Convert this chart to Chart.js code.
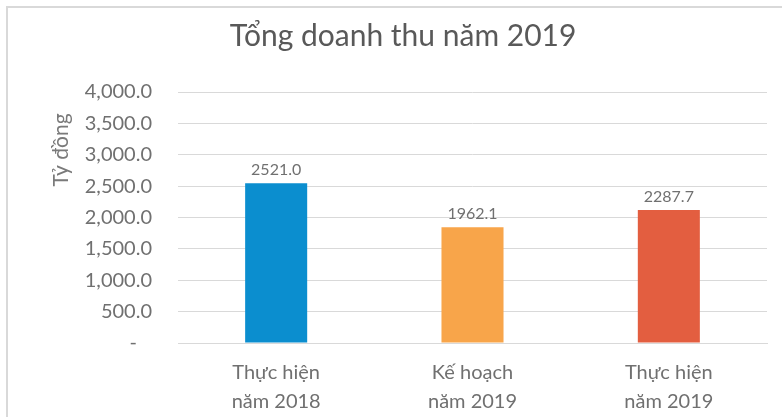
<!DOCTYPE html>
<html>
<head>
<meta charset="utf-8">
<script src="https://cdn.jsdelivr.net/npm/chart.js@4/dist/chart.umd.min.js"></script>
<style>
  html, body { margin: 0; padding: 0; background: #fff; }
  #wrap { width: 782px; height: 417px; }
</style>
</head>
<body>
<div id="wrap"><canvas id="chart" width="782" height="417"></canvas></div>
<script>
const categories = [["Thực hiện", "năm 2018"], ["Kế hoạch", "năm 2019"], ["Thực hiện", "năm 2019"]];
// bar heights as drawn in the picture
const barValues = [2545, 1845, 2120];
// value labels printed above bars
const valueLabels = ["2521.0", "1962.1", "2287.7"];
const barColors = ['#0B8ECF', '#F8A54A', '#E35E40'];
const chartTitle = 'Tổng doanh thu năm 2019';
const yTitle = 'Tỷ đồng';

const FONT = 'Lato, "Open Sans", sans-serif';
const TEXT = '#707070';

// frame around the chart (only top and left edges are visible) + title
const framePlugin = {
    id: 'frame',
    beforeDraw(chart) {
        const ctx = chart.ctx;
        ctx.save();
        ctx.fillStyle = '#fff';
        ctx.fillRect(0, 0, chart.width, chart.height);
        ctx.strokeStyle = '#d9d9d9';
        ctx.lineWidth = 2;
        ctx.beginPath();
        ctx.moveTo(7, chart.height);
        ctx.lineTo(7, 7);
        ctx.lineTo(chart.width, 7);
        ctx.stroke();
        ctx.font = '30px ' + FONT;
        ctx.fillStyle = '#595959';
        ctx.textAlign = 'center';
        ctx.textBaseline = 'middle';
        ctx.fillText(chartTitle, 403, 36);
        ctx.restore();
    }
};

// value labels + y axis title
const labelPlugin = {
    id: 'valueLabels',
    afterDatasetsDraw(chart) {
        const ctx = chart.ctx;
        const meta = chart.getDatasetMeta(0);
        ctx.save();
        ctx.font = '16px ' + FONT;
        ctx.fillStyle = TEXT;
        ctx.textAlign = 'center';
        ctx.textBaseline = 'bottom';
        meta.data.forEach((bar, i) => {
            ctx.fillText(valueLabels[i], bar.x, bar.y - 5);
        });
        ctx.translate(61, 150);
        ctx.rotate(-Math.PI / 2);
        ctx.font = '21px ' + FONT;
        ctx.fillStyle = '#7a7a7a';
        ctx.textBaseline = 'middle';
        ctx.fillText(yTitle, 0, 0);
        ctx.restore();
    }
};

const data = {
    labels: categories,
    datasets: [{
        data: barValues,
        backgroundColor: barColors,
        categoryPercentage: 1,
        barPercentage: 0.316
    }]
};

const config = {
    type: 'bar',
    data: data,
    options: {
        responsive: false,
        animation: false,
        layout: { padding: { left: 0, right: 15, top: 92, bottom: 0 } },
        plugins: {
            legend: { display: false },
            tooltip: { enabled: false },
            title: { display: false }
        },
        scales: {
            x: {
                grid: { display: false },
                border: { color: '#d9d9d9', width: 1 },
                ticks: {
                    color: TEXT,
                    padding: 7,
                    maxRotation: 0,
                    font: { family: FONT, size: 20, lineHeight: 1.45 }
                },
                afterFit(scale) { scale.height = 74; }
            },
            y: {
                min: 0,
                max: 4000,
                grid: { color: '#d9d9d9', drawTicks: false },
                border: { display: false },
                ticks: {
                    stepSize: 500,
                    color: TEXT,
                    padding: 26,
                    font: { family: FONT, size: 20 },
                    callback: v => v === 0 ? '-\u2002 ' : v.toLocaleString('en-US', { minimumFractionDigits: 1, maximumFractionDigits: 1 })
                },
                afterFit(scale) { scale.width = 178; }
            }
        }
    },
    plugins: [framePlugin, labelPlugin]
};

var chart = new Chart(document.getElementById('chart'), config);
</script>
</body>
</html>
